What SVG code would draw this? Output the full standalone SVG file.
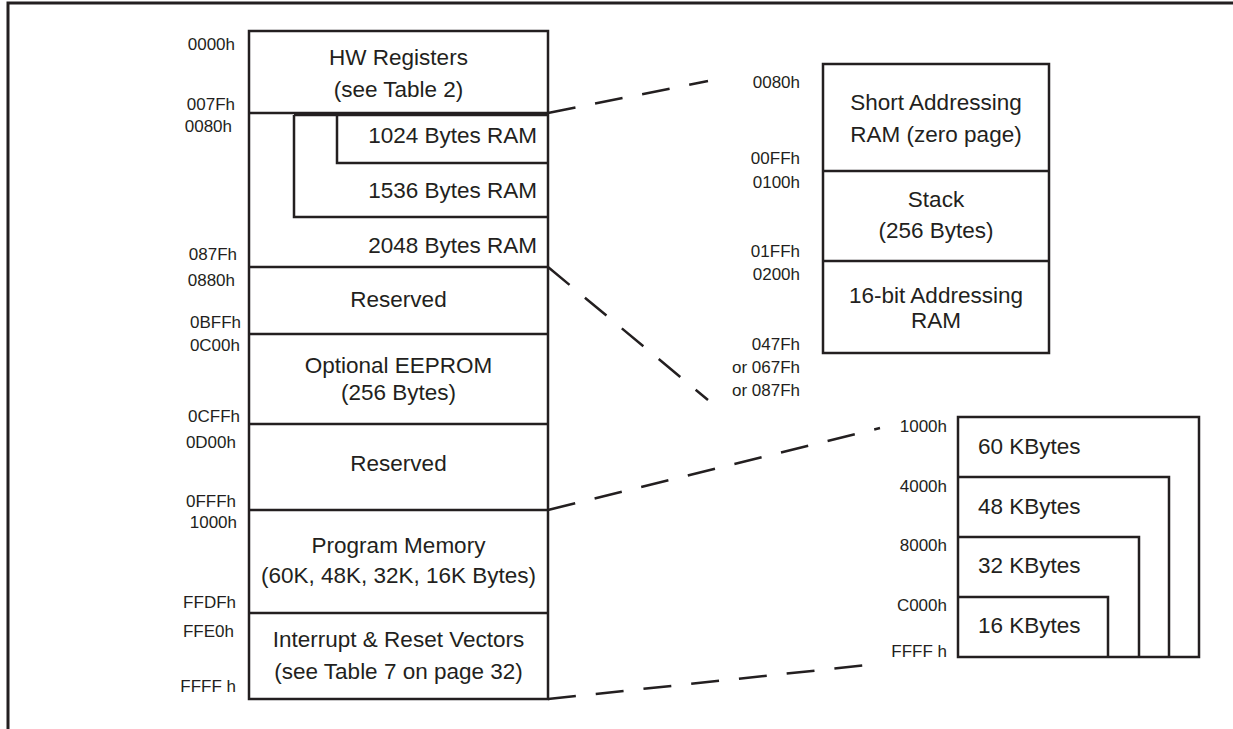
<svg xmlns="http://www.w3.org/2000/svg" width="1233" height="729" viewBox="0 0 1233 729">
<style>
.box{fill:none;stroke:#231f20;stroke-width:2.5}
.frame{fill:none;stroke:#231f20;stroke-width:3}
.dash{fill:none;stroke:#231f20;stroke-width:2.5;stroke-dasharray:28 20}
.t{font-family:"Liberation Sans",Arial,sans-serif;font-size:22.5px;fill:#231f20}
.c{text-anchor:middle}
.e{text-anchor:end}
.a{font-family:"Liberation Sans",Arial,sans-serif;font-size:17px;fill:#231f20;text-anchor:end}
</style>
<rect width="1233" height="729" fill="#fff"/>
<path class="frame" d="M8,729 V3 H1233"/>
<g id="memory-map">
<rect class="box" x="249" y="31" width="299" height="668"/>
<g id="hw-registers">
<line class="box" x1="249" y1="113" x2="548" y2="113"/>
<text class="t c" x="398.5" y="65">HW Registers</text>
<text class="t c" x="398.5" y="97">(see Table 2)</text>
</g>
<g id="ram">
<line class="box" x1="294" y1="115" x2="548" y2="115"/>
<polyline class="box" points="337,115 337,163 548,163"/>
<polyline class="box" points="294,115 294,217 548,217"/>
<line class="box" x1="249" y1="267" x2="548" y2="267"/>
<text class="t e" x="537" y="143">1024 Bytes RAM</text>
<text class="t e" x="537" y="198">1536 Bytes RAM</text>
<text class="t e" x="537" y="253">2048 Bytes RAM</text>
</g>
<g id="reserved-1">
<line class="box" x1="249" y1="334" x2="548" y2="334"/>
<text class="t c" x="398.5" y="307">Reserved</text>
</g>
<g id="eeprom">
<line class="box" x1="249" y1="424" x2="548" y2="424"/>
<text class="t c" x="398.5" y="373">Optional EEPROM</text>
<text class="t c" x="398.5" y="400">(256 Bytes)</text>
</g>
<g id="reserved-2">
<line class="box" x1="249" y1="510" x2="548" y2="510"/>
<text class="t c" x="398.5" y="471">Reserved</text>
</g>
<g id="program-memory">
<line class="box" x1="249" y1="613" x2="548" y2="613"/>
<text class="t c" x="398.5" y="553">Program Memory</text>
<text class="t c" x="398.5" y="583">(60K, 48K, 32K, 16K Bytes)</text>
</g>
<g id="vectors">
<text class="t c" x="398.5" y="647">Interrupt &amp; Reset Vectors</text>
<text class="t c" x="398.5" y="679">(see Table 7 on page 32)</text>
</g>
<g id="left-addresses">
<text class="a" x="235" y="50">0000h</text>
<text class="a" x="235" y="110">007Fh</text>
<text class="a" x="232" y="132">0080h</text>
<text class="a" x="237" y="260">087Fh</text>
<text class="a" x="235" y="286">0880h</text>
<text class="a" x="241" y="328">0BFFh</text>
<text class="a" x="240" y="351">0C00h</text>
<text class="a" x="240" y="422">0CFFh</text>
<text class="a" x="236" y="448">0D00h</text>
<text class="a" x="236" y="507">0FFFh</text>
<text class="a" x="237" y="528">1000h</text>
<text class="a" x="236" y="608">FFDFh</text>
<text class="a" x="234" y="637">FFE0h</text>
<text class="a" x="236" y="692">FFFF h</text>
</g>
</g>
<g id="zero-page-detail">
<rect class="box" x="823" y="64" width="226" height="289"/>
<line class="box" x1="823" y1="171" x2="1049" y2="171"/>
<line class="box" x1="823" y1="261" x2="1049" y2="261"/>
<text class="t c" x="936" y="110">Short Addressing</text>
<text class="t c" x="936" y="142">RAM (zero page)</text>
<text class="t c" x="936" y="207">Stack</text>
<text class="t c" x="936" y="238">(256 Bytes)</text>
<text class="t c" x="936" y="303">16-bit Addressing</text>
<text class="t c" x="936" y="328">RAM</text>
<text class="a" x="800" y="88">0080h</text>
<text class="a" x="800" y="164">00FFh</text>
<text class="a" x="800" y="188">0100h</text>
<text class="a" x="800" y="257">01FFh</text>
<text class="a" x="800" y="280">0200h</text>
<text class="a" x="800" y="350">047Fh</text>
<text class="a" x="800" y="373">or 067Fh</text>
<text class="a" x="800" y="396">or 087Fh</text>
</g>
<g id="flash-detail">
<rect class="box" x="958" y="417" width="241" height="240"/>
<polyline class="box" points="958,477 1169,477 1169,657"/>
<polyline class="box" points="958,537 1139,537 1139,657"/>
<polyline class="box" points="958,597 1108,597 1108,657"/>
<text class="t" x="978" y="454">60 KBytes</text>
<text class="t" x="978" y="514">48 KBytes</text>
<text class="t" x="978" y="573">32 KBytes</text>
<text class="t" x="978" y="633">16 KBytes</text>
<text class="a" x="947" y="432">1000h</text>
<text class="a" x="947" y="492">4000h</text>
<text class="a" x="947" y="551">8000h</text>
<text class="a" x="947" y="611">C000h</text>
<text class="a" x="947" y="657">FFFF h</text>
</g>
<g id="connectors">
<line class="dash" x1="548" y1="113" x2="708" y2="81"/>
<line class="dash" x1="548" y1="267" x2="708" y2="400"/>
<line class="dash" x1="548" y1="510" x2="880" y2="428"/>
<line class="dash" x1="548" y1="699" x2="877" y2="664"/>
</g>
</svg>
